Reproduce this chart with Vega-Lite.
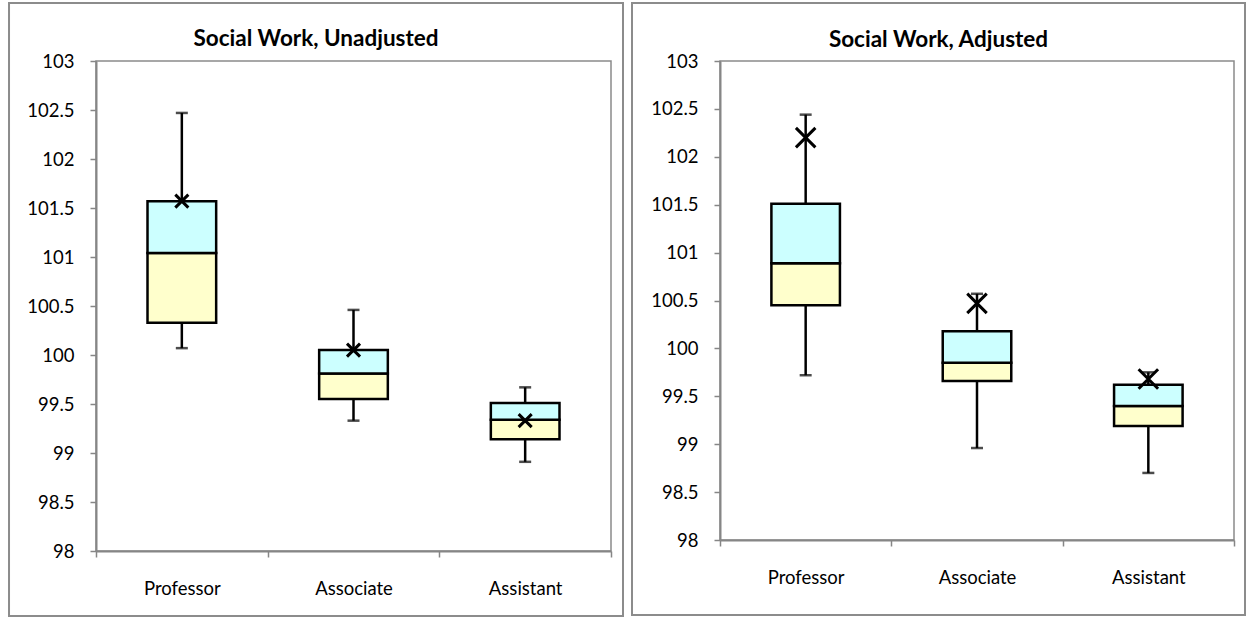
{
  "$schema": "https://vega.github.io/schema/vega-lite/v6.json",
  "background": "white",
  "padding": {"left": 7, "top": 1, "right": 0, "bottom": 0},
  "spacing": 5,
  "datasets": {
    "unadj": [
      {"rank": "Professor", "min": 100.07, "q1": 100.33, "median": 101.04, "q3": 101.57, "max": 102.47, "mean": 101.57},
      {"rank": "Associate", "min": 99.33, "q1": 99.55, "median": 99.81, "q3": 100.05, "max": 100.46, "mean": 100.05},
      {"rank": "Assistant", "min": 98.91, "q1": 99.14, "median": 99.34, "q3": 99.51, "max": 99.67, "mean": 99.33}
    ],
    "adj": [
      {"rank": "Professor", "min": 99.72, "q1": 100.45, "median": 100.89, "q3": 101.51, "max": 102.44, "mean": 102.2},
      {"rank": "Associate", "min": 98.96, "q1": 99.66, "median": 99.85, "q3": 100.18, "max": 100.57, "mean": 100.47},
      {"rank": "Assistant", "min": 98.7, "q1": 99.19, "median": 99.4, "q3": 99.62, "max": 99.75, "mean": 99.68}
    ],
    "frame": [{"k": 1}]
  },
  "config": {
    "font": "Lato",
    "view": {"stroke": "#8a8a8a", "strokeWidth": 1.5},
    "axis": {
      "labelFont": "Lato", "labelFontSize": 18.5, "labelColor": "#000000",
      "domainColor": "#868686", "domainWidth": 2,
      "tickColor": "#868686", "tickWidth": 1.5, "tickSize": 6,
      "grid": false, "title": null
    },
    "title": {"font": "Lato", "fontSize": 22.5, "fontWeight": "bold", "color": "#000000", "anchor": "middle", "frame": "bounds"}
  },
  "hconcat": [
    {
      "title": {"text": "Social Work, Unadjusted", "offset": -49, "frame": "bounds"},
      "width": 515,
      "height": 490,
      "resolve": {"scale": {"x": "independent"}},
      "layer": [
        {
          "data": {"name": "frame"},
          "mark": {"type": "rect", "fill": null, "stroke": "#8c8c8c", "strokeWidth": 2, "clip": false},
          "encoding": {
            "x": {"datum": -0.1689, "type": "quantitative", "scale": {"domain": [0, 1], "nice": false, "zero": false}, "axis": null},
            "x2": {"datum": 1.0233},
            "y": {"datum": 103.592, "type": "quantitative", "scale": {"domain": [98, 103], "nice": false, "zero": false}},
            "y2": {"datum": 97.337}
          }
        },
        {
          "data": {"name": "unadj"},
          "encoding": {
            "x": {"field": "rank", "type": "nominal", "sort": ["Professor", "Associate", "Assistant"],
                  "scale": {"paddingInner": 0, "paddingOuter": 0},
                  "axis": {"labelAngle": 0, "tickBand": "extent", "labelPadding": 22, "labelBaseline": "top"}},
            "y": {"type": "quantitative", "scale": {"domain": [98, 103], "nice": false, "zero": false},
                  "axis": {"values": [98, 98.5, 99, 99.5, 100, 100.5, 101, 101.5, 102, 102.5, 103], "format": ".1~f", "labelPadding": 16}}
          },
          "layer": [
            {"mark": {"type": "rule", "color": "black", "strokeWidth": 2.5}, "encoding": {"y": {"field": "q3", "type": "quantitative"}, "y2": {"field": "max"}}},
            {"mark": {"type": "rule", "color": "black", "strokeWidth": 2.5}, "encoding": {"y": {"field": "min", "type": "quantitative"}, "y2": {"field": "q1"}}},
            {"mark": {"type": "tick", "color": "black", "thickness": 2.5, "size": 12}, "encoding": {"y": {"field": "max", "type": "quantitative"}}},
            {"mark": {"type": "tick", "color": "black", "thickness": 2.5, "size": 12}, "encoding": {"y": {"field": "min", "type": "quantitative"}}},
            {"mark": {"type": "bar", "fill": "#FFFFCC", "stroke": "black", "strokeWidth": 2.5, "width": {"band": 0.4}}, "encoding": {"y": {"field": "q1", "type": "quantitative"}, "y2": {"field": "median"}}},
            {"mark": {"type": "bar", "fill": "#CCFFFF", "stroke": "black", "strokeWidth": 2.5, "width": {"band": 0.4}}, "encoding": {"y": {"field": "median", "type": "quantitative"}, "y2": {"field": "q3"}}},
            {"mark": {"type": "point", "shape": "M-1,-1L1,1M-1,1L1,-1", "filled": false, "stroke": "black", "strokeWidth": 3, "size": 170, "opacity": 1}, "encoding": {"y": {"field": "mean", "type": "quantitative"}}}
          ]
        }
      ]
    },
    {
      "title": {"text": "Social Work, Adjusted", "offset": -49, "frame": "bounds"},
      "width": 514,
      "height": 479,
      "resolve": {"scale": {"x": "independent"}},
      "layer": [
        {
          "data": {"name": "frame"},
          "mark": {"type": "rect", "fill": null, "stroke": "#8c8c8c", "strokeWidth": 2, "clip": false},
          "encoding": {
            "x": {"datum": -0.1712, "type": "quantitative", "scale": {"domain": [0, 1], "nice": false, "zero": false}, "axis": null},
            "x2": {"datum": 1.0214},
            "y": {"datum": 103.605, "type": "quantitative", "scale": {"domain": [98, 103], "nice": false, "zero": false}},
            "y2": {"datum": 97.218}
          }
        },
        {
          "data": {"name": "adj"},
          "encoding": {
            "x": {"field": "rank", "type": "nominal", "sort": ["Professor", "Associate", "Assistant"],
                  "scale": {"paddingInner": 0, "paddingOuter": 0},
                  "axis": {"labelAngle": 0, "tickBand": "extent", "labelPadding": 22, "labelBaseline": "top"}},
            "y": {"type": "quantitative", "scale": {"domain": [98, 103], "nice": false, "zero": false},
                  "axis": {"values": [98, 98.5, 99, 99.5, 100, 100.5, 101, 101.5, 102, 102.5, 103], "format": ".1~f", "labelPadding": 16}}
          },
          "layer": [
            {"mark": {"type": "rule", "color": "black", "strokeWidth": 2.5}, "encoding": {"y": {"field": "q3", "type": "quantitative"}, "y2": {"field": "max"}}},
            {"mark": {"type": "rule", "color": "black", "strokeWidth": 2.5}, "encoding": {"y": {"field": "min", "type": "quantitative"}, "y2": {"field": "q1"}}},
            {"mark": {"type": "tick", "color": "black", "thickness": 2.5, "size": 12}, "encoding": {"y": {"field": "max", "type": "quantitative"}}},
            {"mark": {"type": "tick", "color": "black", "thickness": 2.5, "size": 12}, "encoding": {"y": {"field": "min", "type": "quantitative"}}},
            {"mark": {"type": "bar", "fill": "#FFFFCC", "stroke": "black", "strokeWidth": 2.5, "width": {"band": 0.4}}, "encoding": {"y": {"field": "q1", "type": "quantitative"}, "y2": {"field": "median"}}},
            {"mark": {"type": "bar", "fill": "#CCFFFF", "stroke": "black", "strokeWidth": 2.5, "width": {"band": 0.4}}, "encoding": {"y": {"field": "median", "type": "quantitative"}, "y2": {"field": "q3"}}},
            {"mark": {"type": "point", "shape": "M-1,-1L1,1M-1,1L1,-1", "filled": false, "stroke": "black", "strokeWidth": 3, "size": 380, "opacity": 1}, "encoding": {"y": {"field": "mean", "type": "quantitative"}}}
          ]
        }
      ]
    }
  ]
}
